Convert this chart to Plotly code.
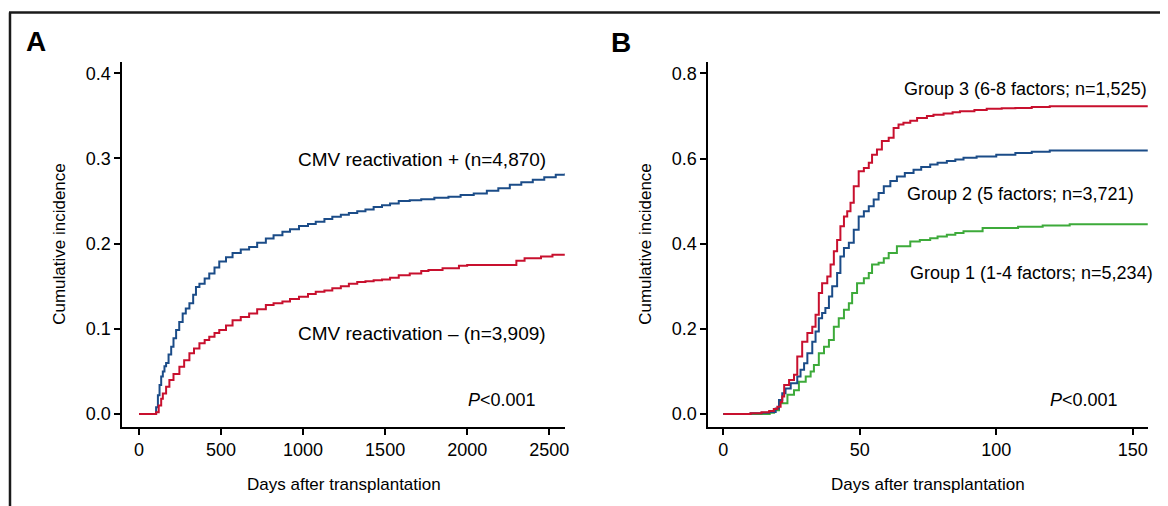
import plotly.graph_objects as go

# The page body has an 8px margin, so the figure is made 8px smaller and all
# target pixel positions (measured on the 1168x506 screenshot) are shifted by 8px.
OFF = 8
W, H = 1168 - OFF, 506 - OFF

# ---------------- Data ----------------
# Panel A: cumulative incidence by CMV reactivation status (days)
cmv_pos_days = [0, 104, 115, 125, 135, 145, 155, 165, 180, 196, 210, 226, 245, 266, 285, 307, 330, 347,
                368, 400, 428, 460, 489, 530, 570, 620, 671, 720, 773, 820, 874, 920, 975, 1030, 1077,
                1130, 1178, 1230, 1279, 1330, 1380, 1430, 1481, 1530, 1583, 1650, 1720, 1800, 1886,
                1960, 2040, 2120, 2190, 2260, 2330, 2400, 2470, 2540, 2600]
cmv_pos_vals = [0, 0.008, 0.022, 0.034, 0.044, 0.050, 0.056, 0.060, 0.070, 0.079, 0.089, 0.0986, 0.108,
                0.118, 0.124, 0.130, 0.140, 0.149, 0.153, 0.159, 0.165, 0.172, 0.179, 0.184, 0.189, 0.193,
                0.196, 0.201, 0.206, 0.210, 0.214, 0.217, 0.2207, 0.223, 0.2257, 0.229, 0.2316, 0.234,
                0.236, 0.238, 0.240, 0.243, 0.245, 0.247, 0.250, 0.251, 0.252, 0.254, 0.255, 0.257, 0.259,
                0.262, 0.265, 0.269, 0.272, 0.275, 0.278, 0.281, 0.283]

cmv_neg_days = [0, 104, 120, 135, 145, 165, 185, 210, 246, 275, 307, 335, 368, 400, 428, 460, 489, 530,
                570, 620, 671, 720, 773, 820, 874, 920, 975, 1030, 1077, 1130, 1178, 1230, 1279, 1330,
                1380, 1430, 1481, 1530, 1583, 1650, 1720, 1764, 1850, 1950, 2000, 2280, 2300, 2350,
                2450, 2520, 2600]
cmv_neg_vals = [0, 0.002, 0.010, 0.018, 0.024, 0.032, 0.040, 0.047, 0.0556, 0.063, 0.0712, 0.077, 0.083,
                0.087, 0.0907, 0.095, 0.0986, 0.104, 0.110, 0.114, 0.118, 0.123, 0.128, 0.130, 0.132,
                0.135, 0.1377, 0.141, 0.1435, 0.145, 0.1475, 0.150, 0.153, 0.155, 0.156, 0.157, 0.158,
                0.160, 0.163, 0.165, 0.168, 0.169, 0.171, 0.174, 0.175, 0.175, 0.180, 0.183, 0.185,
                0.187, 0.188]

# Panel B: cumulative incidence by risk group (days)
g3_days = [0, 10, 14, 16.8, 18.5, 19.8, 21.0, 21.6, 22.3, 24.1, 25.9, 27.1, 28.9, 30.8, 32.6, 33.8, 35.0,
           36.2, 38.1, 39.3, 40.5, 41.7, 42.9, 44.2, 45.4, 46.6, 47.8, 49.6, 51.5, 53.3, 54.5, 56.3, 58.1,
           60.6, 62.4, 64.2, 66, 68.5, 71, 74.6, 77, 80.7, 84, 86.7, 92, 96.5, 102, 107, 113, 119.6, 156]
g3_vals = [0, 0.002, 0.004, 0.007, 0.012, 0.017, 0.028, 0.041, 0.068, 0.080, 0.092, 0.135, 0.170, 0.190,
           0.205, 0.233, 0.284, 0.307, 0.323, 0.351, 0.382, 0.409, 0.441, 0.464, 0.476, 0.496, 0.535,
           0.570, 0.578, 0.590, 0.609, 0.621, 0.641, 0.649, 0.672, 0.680, 0.684, 0.689, 0.695, 0.700,
           0.703, 0.706, 0.709, 0.711, 0.714, 0.717, 0.718, 0.719, 0.721, 0.723, 0.723]

g2_days = [0, 10, 14, 16.8, 19.2, 20.4, 21.6, 22.8, 24.7, 27.1, 28.3, 29.6, 30.8, 32.6, 33.8, 35.0, 36.2,
           37.4, 38.7, 39.9, 41.7, 42.9, 44.2, 46.0, 47.8, 49.6, 51.5, 53.3, 55.1, 56.9, 58.8, 61.2, 63.6,
           66.5, 69.7, 72.5, 75.8, 78.5, 81.9, 85, 88, 92.8, 100, 107, 113, 119.6, 156]
g2_vals = [0, 0.002, 0.003, 0.005, 0.013, 0.033, 0.049, 0.060, 0.072, 0.088, 0.104, 0.119, 0.143, 0.170,
           0.194, 0.225, 0.237, 0.249, 0.276, 0.300, 0.331, 0.370, 0.390, 0.402, 0.433, 0.464, 0.476,
           0.488, 0.504, 0.519, 0.535, 0.547, 0.558, 0.566, 0.574, 0.580, 0.586, 0.590, 0.594, 0.598,
           0.602, 0.605, 0.609, 0.613, 0.616, 0.619, 0.619]

g1_days = [0, 17, 18.6, 20.4, 23.5, 25.9, 27.7, 30.2, 32.0, 33.2, 35.0, 36.9, 38.7, 40.5, 42.3, 44.2, 46.0,
           47.2, 49.0, 51.5, 53.3, 54.5, 56.9, 58.8, 60.6, 63.6, 68.5, 72, 75.8, 78.5, 81.9, 85, 88, 95,
           100, 108, 117, 126.9, 155.7]
g1_vals = [0, 0.003, 0.009, 0.025, 0.045, 0.056, 0.076, 0.088, 0.100, 0.115, 0.143, 0.158, 0.174, 0.205,
           0.225, 0.245, 0.260, 0.284, 0.307, 0.319, 0.331, 0.351, 0.355, 0.366, 0.378, 0.394, 0.405,
           0.409, 0.413, 0.417, 0.421, 0.425, 0.429, 0.437, 0.437, 0.440, 0.443, 0.446, 0.446]

# Tick labels
xa_ticks = [0, 500, 1000, 1500, 2000, 2500]
xa_ticktext = ["0", "500", "1000", "1500", "2000", "2500"]
ya_ticks = [0.0, 0.1, 0.2, 0.3, 0.4]
ya_ticktext = ["0.0", "0.1", "0.2", "0.3", "0.4"]
xb_ticks = [0, 50, 100, 150]
xb_ticktext = ["0", "50", "100", "150"]
yb_ticks = [0.0, 0.2, 0.4, 0.6, 0.8]
yb_ticktext = ["0.0", "0.2", "0.4", "0.6", "0.8"]

# Labels
label_pos = "CMV reactivation + (n=4,870)"
label_neg = "CMV reactivation \u2013 (n=3,909)"
label_g3 = "Group 3 (6-8 factors; n=1,525)"
label_g2 = "Group 2 (5 factors; n=3,721)"
label_g1 = "Group 1 (1-4 factors; n=5,234)"
x_title = "Days after transplantation"
y_title = "Cumulative incidence"
p_text = "<i>P</i>&lt;0.001"

RED = "#c8102e"
BLUE = "#1b4c88"
GREEN = "#3daa3a"

# ---------------- Figure ----------------
def px(x):
    return (x - OFF) / W

def py(y):
    return 1 - (y - OFF) / H

TICK_FONT = dict(family="Liberation Sans, Arial, sans-serif", size=18, color="black")
TEXT_FONT = dict(family="Liberation Sans, Arial, sans-serif", size=18, color="black")
CMV_FONT = dict(family="Liberation Sans, Arial, sans-serif", size=19, color="black")
TITLE_FONT = dict(family="Liberation Sans, Arial, sans-serif", size=17, color="black")

fig = go.Figure()

line_w = 2
fig.add_trace(go.Scatter(x=cmv_pos_days, y=cmv_pos_vals, mode="lines", line=dict(color=BLUE, width=line_w, shape="hv"),
                         xaxis="x", yaxis="y", name=label_pos))
fig.add_trace(go.Scatter(x=cmv_neg_days, y=cmv_neg_vals, mode="lines", line=dict(color=RED, width=line_w, shape="hv"),
                         xaxis="x", yaxis="y", name=label_neg))
fig.add_trace(go.Scatter(x=g1_days, y=g1_vals, mode="lines", line=dict(color=GREEN, width=line_w, shape="hv"),
                         xaxis="x2", yaxis="y2", name=label_g1))
fig.add_trace(go.Scatter(x=g2_days, y=g2_vals, mode="lines", line=dict(color=BLUE, width=line_w, shape="hv"),
                         xaxis="x2", yaxis="y2", name=label_g2))
fig.add_trace(go.Scatter(x=g3_days, y=g3_vals, mode="lines", line=dict(color=RED, width=line_w, shape="hv"),
                         xaxis="x2", yaxis="y2", name=label_g3))

ydom = [py(426.7), py(61.7)]
axis_common = dict(showline=True, linecolor="black", linewidth=2, ticks="outside", ticklen=6,
                   tickwidth=1.5, tickcolor="black", showgrid=False, zeroline=False,
                   tickfont=TICK_FONT, fixedrange=True)

fig.update_layout(
    width=W, height=H,
    margin=dict(l=0, r=0, t=0, b=0),
    paper_bgcolor="white", plot_bgcolor="white",
    showlegend=False,
    xaxis=dict(domain=[px(122.7), px(566.7)], range=[-102, 2595], anchor="y",
               tickvals=xa_ticks, ticktext=xa_ticktext, **axis_common),
    yaxis=dict(domain=ydom, range=[-0.0149, 0.4136], anchor="x",
               tickvals=ya_ticks, ticktext=ya_ticktext, **axis_common),
    xaxis2=dict(domain=[px(710.7), px(1151.7)], range=[-5.5, 155.5], anchor="y2",
                tickvals=xb_ticks, ticktext=xb_ticktext, **axis_common),
    yaxis2=dict(domain=ydom, range=[-0.0298, 0.8275], anchor="x2",
                tickvals=yb_ticks, ticktext=yb_ticktext, **axis_common),
)

# Frame lines (top and left)
fig.add_shape(type="line", xref="paper", yref="paper", x0=px(9), x1=1.01, y0=py(12.5), y1=py(12.5),
              line=dict(color="#1a1a1a", width=2.5))
fig.add_shape(type="line", xref="paper", yref="paper", x0=px(10), x1=px(10), y0=py(12.5), y1=-0.02,
              line=dict(color="#1a1a1a", width=2.5))

def ann(text, x, y, xanchor="center", yanchor="middle", font=TEXT_FONT, angle=0):
    fig.add_annotation(text=text, x=px(x), y=py(y), xref="paper", yref="paper", xanchor=xanchor,
                       yanchor=yanchor, showarrow=False, font=font, textangle=angle)

PANEL_FONT = dict(family="Liberation Sans, Arial, sans-serif", size=28, color="black")
ann("<b>A</b>", 24, 42, xanchor="left", font=PANEL_FONT)
ann("<b>B</b>", 611, 43, xanchor="left", font=PANEL_FONT)

ann(label_pos, 423.5, 159, font=CMV_FONT)
ann(label_neg, 423.5, 333, font=CMV_FONT)
ann(p_text, 540, 400, xanchor="right")

ann(label_g3, 1153, 89, xanchor="right")
ann(label_g2, 908, 194, xanchor="left")
ann(label_g1, 911, 272.5, xanchor="left")
ann(p_text, 1124, 400, xanchor="right")

ann(x_title, 344.7, 484, font=TITLE_FONT)
ann(x_title, 931.2, 484, font=TITLE_FONT)
ann(y_title, 59, 244, font=TITLE_FONT, angle=-90)
ann(y_title, 647, 244, font=TITLE_FONT, angle=-90)

fig.write_html("out.html")
